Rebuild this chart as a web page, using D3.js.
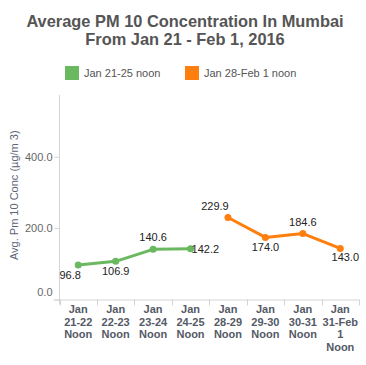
<!DOCTYPE html>
<html>
<head>
<meta charset="utf-8">
<script src="https://cdn.jsdelivr.net/npm/d3@7"></script>
<style>
  html, body { margin: 0; padding: 0; background: #fff; }
  svg { display: block; font-family: "Liberation Sans", Arial, sans-serif; }
</style>
</head>
<body>
<svg id="chart" width="366" height="365"></svg>
<script>
// ---- Data ----
const categories = [
  "Jan 21-22 Noon", "Jan 22-23 Noon", "Jan 23-24 Noon", "Jan 24-25 Noon",
  "Jan 28-29 Noon", "Jan 29-30 Noon", "Jan 30-31 Noon", "Jan 31-Feb 1 Noon"
];
const categoryLines = [
  ["Jan", "21-22", "Noon"], ["Jan", "22-23", "Noon"], ["Jan", "23-24", "Noon"], ["Jan", "24-25", "Noon"],
  ["Jan", "28-29", "Noon"], ["Jan", "29-30", "Noon"], ["Jan", "30-31", "Noon"], ["Jan", "31-Feb", "1", "Noon"]
];
const seriesNames = ["Jan 21-25 noon", "Jan 28-Feb 1 noon"];
const series1Cats = categories.slice(0, 4);
const series1Values = [96.8, 106.9, 140.6, 142.2];
const series2Cats = categories.slice(4);
const series2Values = [229.9, 174.0, 184.6, 143.0];
const yTicks = [0, 200, 400];
const titleLines = ["Average PM 10 Concentration In Mumbai", "From Jan 21 - Feb 1, 2016"];
const yTitle = "Avg. Pm 10 Conc (\u00b5g/m 3)";

(function () {
// ---- Layout ----
const colors = ["#6ab85f", "#ff7f0e"];
const svg = d3.select("#chart");
const pLeft = 59.5, pRight = 359, pTop = 95, pBottom = 299.5;

const x = d3.scaleBand().domain(categories).range([pLeft, pRight]).padding(0);
const y = d3.scaleLinear().domain([0, 573]).range([pBottom, pTop]);

// Title
svg.append("g").selectAll("text").data(titleLines).join("text")
  .attr("x", 185).attr("y", (d, i) => 27 + i * 18)
  .attr("text-anchor", "middle")
  .attr("font-size", 16.4).attr("font-weight", "bold").attr("fill", "#555")
  .text(d => d);

// Legend
const legendX = [65, 185];
const lg = svg.append("g").selectAll("g").data(seriesNames).join("g")
  .attr("transform", (d, i) => `translate(${legendX[i]},66)`);
lg.append("rect").attr("width", 14).attr("height", 14).attr("fill", (d, i) => colors[i]);
lg.append("text").attr("x", 19).attr("y", 11).attr("font-size", 11).attr("fill", "#555").text(d => d);

// Axes lines
svg.append("line").attr("x1", pLeft).attr("x2", pLeft).attr("y1", pTop).attr("y2", pBottom + 5)
  .attr("stroke", "#d4d4d4");
svg.append("line").attr("x1", pLeft - 6).attr("x2", pRight).attr("y1", pBottom + 0.5).attr("y2", pBottom + 0.5)
  .attr("stroke", "#d4d4d4");

// Y ticks
const yAxis = d3.axisLeft(y).tickValues(yTicks).tickSize(5).tickFormat(d3.format(".1f"));
const ya = svg.append("g").attr("transform", `translate(${pLeft},0)`).call(yAxis);
ya.select(".domain").remove();
ya.selectAll(".tick line").attr("stroke", "#d4d4d4");
ya.selectAll(".tick text").attr("font-size", 11).attr("fill", "#666")
  .attr("font-family", "Liberation Sans, Arial, sans-serif")
  .attr("dy", d => d === 0 ? "-0.4em" : "0.32em").attr("x", -7);

// X band separators
const seps = categories.map(c => x(c)).concat([pRight]);
svg.append("g").selectAll("line").data(seps).join("line")
  .attr("x1", d => Math.round(d) + 0.5).attr("x2", d => Math.round(d) + 0.5)
  .attr("y1", pBottom).attr("y2", pBottom + 6).attr("stroke", "#d4d4d4");

// X labels
const xl = svg.append("g").selectAll("text").data(categories).join("text")
  .attr("x", d => x(d) + x.bandwidth() / 2)
  .attr("text-anchor", "middle").attr("font-size", 11).attr("font-weight", "bold").attr("fill", "#545a66");
xl.each(function(d, i) {
  d3.select(this).selectAll("tspan").data(categoryLines[i]).join("tspan")
    .attr("x", x(d) + x.bandwidth() / 2)
    .attr("y", (t, j) => 313 + j * 12.5)
    .text(t => t);
});

// Y title
svg.append("text")
  .attr("transform", `translate(18,${(pTop + pBottom) / 2 - 2}) rotate(-90)`)
  .attr("text-anchor", "middle").attr("font-size", 11).attr("fill", "#5b6577")
  .text(yTitle);

// Lines
const line = d3.line().x(d => x(d[0]) + x.bandwidth() / 2).y(d => y(d[1]));
const s1 = series1Cats.map((c, i) => [c, series1Values[i]]);
const s2 = series2Cats.map((c, i) => [c, series2Values[i]]);
[s1, s2].forEach((s, k) => {
  svg.append("path").datum(s).attr("d", line).attr("fill", "none")
    .attr("stroke", colors[k]).attr("stroke-width", 3).attr("stroke-linejoin", "round");
  svg.append("g").selectAll("circle").data(s).join("circle")
    .attr("cx", d => x(d[0]) + x.bandwidth() / 2).attr("cy", d => y(d[1]))
    .attr("r", 3.5).attr("fill", colors[k]);
});

// Labels (placement offsets are layout, kept apart from data)
const labelOffsets = [
  [-8, 14], [0, 14], [0, -8], [1, 4],
  [-13, -7], [0, 14], [0, -8], [5, 13]
];
const allPts = s1.concat(s2);
svg.append("g").selectAll("text").data(allPts).join("text")
  .attr("x", (d, i) => x(d[0]) + x.bandwidth() / 2 + labelOffsets[i][0])
  .attr("y", (d, i) => y(d[1]) + labelOffsets[i][1])
  .attr("text-anchor", (d, i) => i === 3 ? "start" : "middle")
  .attr("font-size", 11).attr("fill", "#222")
  .text(d => d[1].toFixed(1));
})();
</script>
</body>
</html>
